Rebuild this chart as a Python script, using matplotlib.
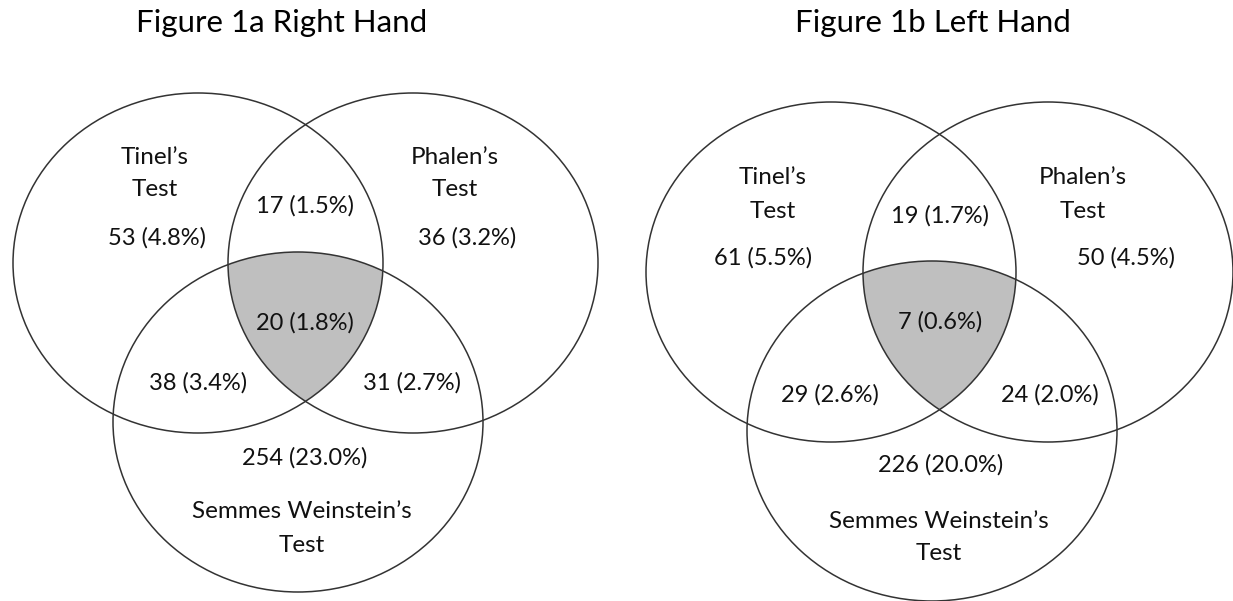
import numpy as np
import matplotlib.pyplot as plt
from matplotlib.patches import Ellipse, Polygon

plt.rcParams["font.family"] = ["Lato", "DejaVu Sans"]

W, H = 1233, 601

# Data
titles = ["Figure 1a Right Hand", "Figure 1b Left Hand"]
set_labels = [["Tinel\u2019s", "Test"], ["Phalen\u2019s", "Test"], ["Semmes Weinstein\u2019s", "Test"]]
# region order: Tinel only, Phalen only, Semmes only, T&P, T&S, P&S, all three
right_counts = [53, 36, 254, 17, 38, 31, 20]
right_pcts = [4.8, 3.2, 23.0, 1.5, 3.4, 2.7, 1.8]
left_counts = [61, 50, 226, 19, 29, 24, 7]
left_pcts = [5.5, 4.5, 20.0, 1.7, 2.6, 2.0, 0.6]

# Layout (pixel coordinates)
ell_w, ell_h = 370, 340
panels = [
    {
        "title_xy": (282, 23),
        "centers": [(198, 263), (413, 263), (298, 422)],
        "set_xy": [(155, 157), (455, 157), (302, 512)],
        "region_xy": [(157, 238), (467, 238), (305, 458), (305, 206), (198, 383), (412, 383), (305, 323)],
        "counts": right_counts,
        "pcts": right_pcts,
    },
    {
        "title_xy": (933, 23),
        "centers": [(831, 272), (1048, 272), (932, 431)],
        "set_xy": [(773, 178), (1083, 178), (939, 521)],
        "region_xy": [(763, 258), (1126, 258), (941, 465), (940, 216), (830, 395), (1050, 395), (940, 322)],
        "counts": left_counts,
        "pcts": left_pcts,
    },
]
line_gap = 33


def inside(px, py, c):
    return ((px - c[0]) / (ell_w / 2)) ** 2 + ((py - c[1]) / (ell_h / 2)) ** 2 <= 1.0001


def triple_region(centers):
    # points on each ellipse boundary that lie inside the other two
    t = np.linspace(0, 2 * np.pi, 3000)
    pts = []
    for i, c in enumerate(centers):
        xs = c[0] + ell_w / 2 * np.cos(t)
        ys = c[1] + ell_h / 2 * np.sin(t)
        ok = np.ones_like(xs, dtype=bool)
        for j, o in enumerate(centers):
            if j != i:
                ok &= inside(xs, ys, o)
        pts.append(np.column_stack([xs[ok], ys[ok]]))
    pts = np.vstack(pts)
    m = pts.mean(axis=0)
    order = np.argsort(np.arctan2(pts[:, 1] - m[1], pts[:, 0] - m[0]))
    return pts[order]


fig = plt.figure(figsize=(W / 100, H / 100), dpi=100)
ax = fig.add_axes([0, 0, 1, 1])
ax.set_xlim(0, W)
ax.set_ylim(H, 0)
ax.axis("off")

for p, title in zip(panels, titles):
    # shaded triple overlap
    ax.add_patch(Polygon(triple_region(p["centers"]), closed=True, facecolor="#bfbfbf", edgecolor="none", zorder=1))
    for c in p["centers"]:
        ax.add_patch(Ellipse(c, ell_w, ell_h, facecolor="none", edgecolor="#333333", lw=1.1, zorder=2))

    ax.text(*p["title_xy"], title, ha="center", va="center", fontsize=22.5, color="#000000")
    for (x, y), lines in zip(p["set_xy"], set_labels):
        for k, s in enumerate(lines):
            ax.text(x, y + k * line_gap, s, ha="center", va="center", fontsize=17.5, color="#111111", zorder=3)
    for (x, y), n, pc in zip(p["region_xy"], p["counts"], p["pcts"]):
        ax.text(x, y, f"{n} ({pc:.1f}%)", ha="center", va="center", fontsize=17, color="#111111", zorder=3)

fig.savefig("out.png", dpi=100)
